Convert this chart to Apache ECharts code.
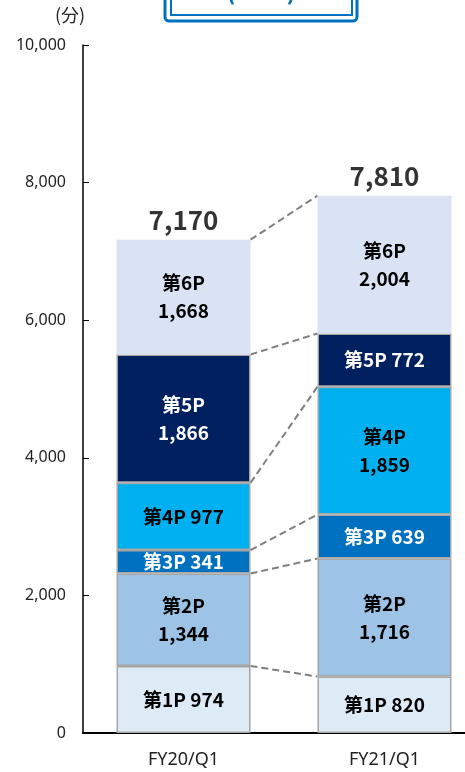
<!DOCTYPE html>
<html>
<head>
<meta charset="utf-8">
<script src="https://cdn.jsdelivr.net/npm/echarts@6/dist/echarts.min.js"></script>
<style>
  html, body { margin: 0; padding: 0; background: #fff; }
  #main { width: 465px; height: 772px; }
</style>
</head>
<body>
<div id="main"></div>
<script>
var categories = ['FY20/Q1', 'FY21/Q1'];
var segNames = ['第1P', '第2P', '第3P', '第4P', '第5P', '第6P'];
var p1 = [974, 820];
var p2 = [1344, 1716];
var p3 = [341, 639];
var p4 = [977, 1859];
var p5 = [1866, 772];
var p6 = [1668, 2004];
var segColors = ['#DDEBF7', '#9DC3E6', '#0070C0', '#00B0F0', '#002060', '#DAE3F3'];
var labelColors = ['#000', '#000', '#fff', '#000', '#fff', '#000'];
var yTicks = [0, 2000, 4000, 6000, 8000, 10000];
var growthText = '(+9%)';

var segValues = [p1, p2, p3, p4, p5, p6];
var barRatio = 2 / 3;

var chart = echarts.init(document.getElementById('main'));

function fmt(v) {
  return v.toLocaleString('en-US');
}

// cumulative tops for each segment
var cum = [];
var run = [0, 0];
segValues.forEach(function (arr) {
  run = [run[0] + arr[0], run[1] + arr[1]];
  cum.push([0, run[0], run[1]]);
});
var totals = [run[0], run[1]];

var font = '"Noto Sans CJK JP", "Noto Sans", sans-serif';
var latin = '"Noto Sans", sans-serif';

var series = segValues.map(function (arr, i) {
  return {
    name: segNames[i],
    type: 'bar',
    stack: 'total',
    barWidth: (barRatio * 100) + '%',
    data: arr,
    itemStyle: {
      color: segColors[i],
      borderColor: i === 5 ? segColors[i] : '#A6A6A6',
      borderWidth: i === 5 ? 0 : 1.5
    },
    label: {
      show: true,
      position: 'inside',
      color: labelColors[i],
      fontFamily: font,
      fontWeight: 'bold',
      fontSize: 19,
      lineHeight: 28,
      formatter: function (p) {
        return segNames[i] + (p.value < 1000 ? ' ' : '\n') + fmt(p.value);
      }
    }
  };
});

// dashed connectors between the bar edges
series.push({
  type: 'custom',
  data: cum,
  encode: { x: 0, y: [1, 2] },
  z: 1,
  silent: true,
  renderItem: function (params, api) {
    var a = api.coord([0, api.value(1)]);
    var b = api.coord([1, api.value(2)]);
    var half = api.size([1, 0])[0] * barRatio / 2;
    return {
      type: 'line',
      shape: { x1: a[0] + half, y1: a[1], x2: b[0] - half, y2: b[1] },
      style: { stroke: '#7F7F7F', lineWidth: 2, lineDash: [7, 4] }
    };
  }
});

// totals on top
series.push({
  type: 'scatter',
  symbolSize: 0,
  data: totals,
  label: {
    show: true,
    position: 'top',
    distance: 7,
    color: '#000',
    fontFamily: font,
    fontWeight: 'bold',
    fontSize: 26,
    formatter: function (p) { return fmt(p.value); }
  }
});

var option = {
  animation: false,
  grid: { left: 83, width: 402, top: 45, height: 688, outerBoundsMode: 'none', containLabel: false },
  xAxis: {
    type: 'category',
    data: categories,
    axisLine: { lineStyle: { color: '#000', width: 2 } },
    axisTick: { inside: true, length: 6, lineStyle: { color: '#000', width: 1.5 } },
    axisLabel: { color: '#222', fontSize: 18, fontFamily: latin, margin: 18 }
  },
  yAxis: {
    type: 'value',
    min: yTicks[0],
    max: yTicks[yTicks.length - 1],
    interval: yTicks[1] - yTicks[0],
    splitLine: { show: false },
    axisLine: { show: true, lineStyle: { color: '#000', width: 1.5 } },
    axisTick: { show: true, inside: true, length: 6, lineStyle: { color: '#000' } },
    axisLabel: {
      color: '#222', fontSize: 16, fontFamily: latin, margin: 17,
      formatter: function (v) { return fmt(v); }
    }
  },
  graphic: [
    {
      type: 'text', left: 55, top: 6,
      style: { text: '(分)', fill: '#222', font: '18px ' + font }
    },
    {
      type: 'rect', shape: { x: 165, y: -30, width: 192, height: 51, r: 4 },
      style: { fill: '#fff', stroke: '#0070C0', lineWidth: 3 }
    },
    {
      type: 'rect', shape: { x: 171, y: -30, width: 181, height: 45 },
      style: { fill: 'none', stroke: '#0070C0', lineWidth: 2 }
    },
    {
      type: 'text', x: 261, y: -9,
      style: { text: growthText, fill: '#0070C0', font: 'bold 24px ' + font, textAlign: 'center', textVerticalAlign: 'middle' }
    }
  ],
  series: series
};

chart.setOption(option);
</script>
</body>
</html>
